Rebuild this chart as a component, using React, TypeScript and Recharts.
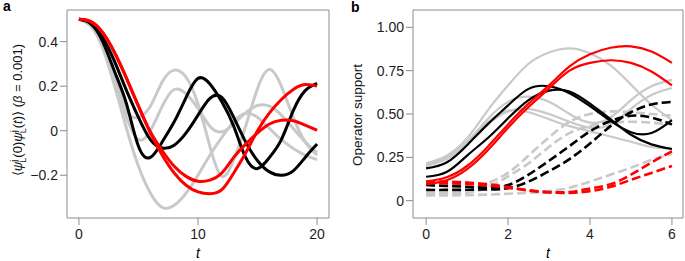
import React from 'react';
import { LineChart, Line, XAxis, YAxis, ReferenceArea } from 'recharts';

const FONT = '"Liberation Sans", Arial, Helvetica, sans-serif';
const GRAY = '#c9c9c9';
const RED = '#ff0000';
const BLACK = '#000000';
const FRAME = '#8c8c8c';

// ---- panel a: correlator vs t (beta = 0.001) ----
const tA = [0, 1, 2, 3, 4, 5, 6, 7, 8, 9, 10, 11, 12, 13, 14, 15, 16, 17, 18, 19, 20];
const aGrayDeep = [0.5, 0.47, 0.37, 0.2, 0.01, -0.16, -0.28, -0.345, -0.335, -0.28, -0.2, -0.11, -0.03, 0.04, 0.078, 0.06, 0.01, -0.04, -0.08, -0.11, -0.13];
const aGrayHigh = [0.5, 0.47, 0.38, 0.24, 0.09, 0.06, 0.11, 0.22, 0.272, 0.24, 0.12, -0.07, -0.205, -0.13, 0.02, 0.19, 0.275, 0.2, 0.06, -0.05, -0.11];
const aGrayMid = [0.5, 0.47, 0.38, 0.23, 0.06, -0.04, 0.0, 0.11, 0.185, 0.165, 0.1, 0.02, -0.005, 0.03, 0.08, 0.113, 0.11, 0.07, 0.01, -0.05, -0.1];
const aBlack1 = [0.5, 0.48, 0.4, 0.265, 0.12, -0.07, -0.12, -0.05, 0.04, 0.15, 0.235, 0.21, 0.13, 0.02, -0.12, -0.17, -0.12, -0.04, 0.09, 0.18, 0.213];
const aBlack2 = [0.5, 0.485, 0.42, 0.31, 0.18, 0.06, -0.04, -0.078, -0.065, -0.01, 0.07, 0.145, 0.15, 0.06, -0.05, -0.135, -0.185, -0.2, -0.18, -0.12, -0.06];
const aRed1 = [0.5, 0.49, 0.44, 0.35, 0.235, 0.11, -0.01, -0.11, -0.19, -0.245, -0.275, -0.283, -0.265, -0.19, -0.1, 0.0, 0.08, 0.14, 0.185, 0.207, 0.2];
const aRed2 = [0.5, 0.49, 0.44, 0.35, 0.235, 0.11, -0.005, -0.09, -0.16, -0.205, -0.227, -0.222, -0.19, -0.12, -0.06, -0.01, 0.03, 0.047, 0.045, 0.025, 0.002];
const aTicksX = [0, 10, 20];
const aTicksY = [-0.2, 0, 0.2, 0.4];

// ---- panel b: operator support vs t ----
const tB = [0, 0.5, 1, 1.5, 2, 2.5, 3, 3.5, 4, 4.5, 5, 5.5, 6];
const bGray1 = [0.215, 0.26, 0.36, 0.52, 0.665, 0.79, 0.855, 0.879, 0.85, 0.78, 0.67, 0.555, 0.465];
const bGray2 = [0.21, 0.25, 0.34, 0.47, 0.57, 0.6, 0.57, 0.5, 0.45, 0.48, 0.58, 0.66, 0.697];
const bGray3 = [0.205, 0.245, 0.33, 0.44, 0.515, 0.53, 0.5, 0.455, 0.42, 0.44, 0.53, 0.61, 0.65];
const bGray4 = [0.2, 0.24, 0.33, 0.45, 0.52, 0.51, 0.47, 0.43, 0.4, 0.37, 0.34, 0.31, 0.3];
const bBlack1 = [0.186, 0.22, 0.32, 0.44, 0.55, 0.645, 0.66, 0.62, 0.545, 0.46, 0.395, 0.39, 0.465];
const bBlack2 = [0.138, 0.165, 0.26, 0.36, 0.475, 0.58, 0.635, 0.63, 0.56, 0.47, 0.38, 0.325, 0.298];
const bRed1 = [0.11, 0.135, 0.2, 0.31, 0.44, 0.56, 0.665, 0.775, 0.845, 0.882, 0.89, 0.86, 0.795];
const bRed2 = [0.095, 0.118, 0.182, 0.29, 0.42, 0.54, 0.648, 0.75, 0.795, 0.81, 0.795, 0.745, 0.665];
const bGrayD1 = [0.045, 0.045, 0.055, 0.1, 0.16, 0.26, 0.365, 0.455, 0.5, 0.515, 0.51, 0.5, 0.49];
const bGrayD2 = [0.04, 0.04, 0.045, 0.075, 0.14, 0.215, 0.31, 0.39, 0.43, 0.45, 0.455, 0.45, 0.44];
const bGrayD3 = [0.03, 0.03, 0.032, 0.035, 0.04, 0.045, 0.055, 0.075, 0.11, 0.15, 0.19, 0.235, 0.27];
const bBlackD1 = [0.062, 0.062, 0.063, 0.065, 0.072, 0.11, 0.17, 0.24, 0.33, 0.43, 0.51, 0.555, 0.57];
const bBlackD2 = [0.09, 0.085, 0.08, 0.075, 0.09, 0.15, 0.23, 0.315, 0.4, 0.46, 0.49, 0.48, 0.44];
const bRedD1 = [0.11, 0.11, 0.105, 0.095, 0.078, 0.06, 0.05, 0.05, 0.07, 0.095, 0.15, 0.22, 0.285];
const bRedD2 = [0.1, 0.1, 0.097, 0.088, 0.075, 0.058, 0.047, 0.045, 0.055, 0.08, 0.12, 0.16, 0.2];
const bTicksX = [0, 2, 4, 6];
const bTicksY = [0, 0.25, 0.5, 0.75, 1];

const dataA = tA.map((t, i) => ({
  t,
  grayDeep: aGrayDeep[i],
  grayHigh: aGrayHigh[i],
  grayMid: aGrayMid[i],
  black1: aBlack1[i],
  black2: aBlack2[i],
  red1: aRed1[i],
  red2: aRed2[i],
}));

const dataB = tB.map((t, i) => ({
  t,
  g1: bGray1[i], g2: bGray2[i], g3: bGray3[i], g4: bGray4[i],
  k1: bBlack1[i], k2: bBlack2[i],
  r1: bRed1[i], r2: bRed2[i],
  gd1: bGrayD1[i], gd2: bGrayD2[i], gd3: bGrayD3[i],
  kd1: bBlackD1[i], kd2: bBlackD2[i],
  rd1: bRedD1[i], rd2: bRedD2[i],
}));

const tickStyle = { fill: '#1e1e1e', fontSize: 14, fontFamily: FONT };
const fmtA = (v: number) => (v === 0 ? '0' : (v < 0 ? '\u2212' : '') + Math.abs(v).toFixed(1));
const fmtB = (v: number) => (v === 0 ? '0' : v.toFixed(2));

const line = (key: string, color: string, w: number, dash?: string) => (
  <Line
    key={key}
    type="natural"
    dataKey={key}
    stroke={color}
    strokeWidth={w}
    strokeDasharray={dash}
    dot={false}
    activeDot={false}
    isAnimationActive={false}
  />
);

const PanelA = () => (
  <LineChart width={340} height={261} data={dataA} margin={{ top: 10, right: 11, bottom: 13, left: 7 }}>
    <XAxis dataKey="t" type="number" domain={[-1, 21]} ticks={aTicksX} allowDataOverflow
      axisLine={false} tickLine={{ stroke: FRAME }} tickSize={7} tickMargin={4} height={30} tick={tickStyle} />
    <YAxis type="number" domain={[-0.392, 0.542]} ticks={aTicksY} allowDataOverflow tickFormatter={fmtA}
      axisLine={false} tickLine={{ stroke: FRAME }} tickSize={7} tickMargin={2} width={60} tick={tickStyle} />
    <ReferenceArea x1={-1} x2={21} y1={-0.392} y2={0.542} fill="none" stroke={FRAME} strokeWidth={1} />
    {line('grayDeep', GRAY, 3)}
    {line('grayHigh', GRAY, 3)}
    {line('grayMid', GRAY, 3)}
    {line('black2', BLACK, 3)}
    {line('black1', BLACK, 3)}
    {line('red2', RED, 3)}
    {line('red1', RED, 3)}
  </LineChart>
);

const PanelB = () => (
  <LineChart width={345} height={261} data={dataB} margin={{ top: 10, right: 2, bottom: 13, left: 13 }}>
    <XAxis dataKey="t" type="number" domain={[-0.32, 6.27]} ticks={bTicksX} allowDataOverflow
      axisLine={false} tickLine={{ stroke: FRAME }} tickSize={7} tickMargin={4} height={30} tick={tickStyle} />
    <YAxis type="number" domain={[-0.1, 1.1]} ticks={bTicksY} allowDataOverflow tickFormatter={fmtB}
      axisLine={false} tickLine={{ stroke: FRAME }} tickSize={7} tickMargin={2} width={60} tick={tickStyle} />
    <ReferenceArea x1={-0.32} x2={6.27} y1={-0.1} y2={1.1} fill="none" stroke={FRAME} strokeWidth={1} />
    {line('g1', GRAY, 2.2)}
    {line('g2', GRAY, 2.2)}
    {line('g3', GRAY, 2.2)}
    {line('g4', GRAY, 2.2)}
    {line('gd1', GRAY, 2.6, '9 4')}
    {line('gd2', GRAY, 2.6, '9 4')}
    {line('gd3', GRAY, 2.6, '9 4')}
    {line('kd1', BLACK, 2.6, '9 4')}
    {line('kd2', BLACK, 2.6, '9 4')}
    {line('k1', BLACK, 2.2)}
    {line('k2', BLACK, 2.2)}
    {line('rd1', RED, 2.6, '9 4')}
    {line('rd2', RED, 2.6, '9 4')}
    {line('r1', RED, 2.2)}
    {line('r2', RED, 2.2)}
  </LineChart>
);

export default function App() {
  return (
    <div style={{ position: 'absolute', left: 0, top: 0, width: 685, height: 261, background: '#fff', overflow: 'hidden' }}>
      <div style={{ position: 'absolute', left: 0, top: 0 }}>
        <PanelA />
      </div>
      <div style={{ position: 'absolute', left: 340, top: 0 }}>
        <PanelB />
      </div>
      <svg width={685} height={261} style={{ position: 'absolute', left: 0, top: 0, pointerEvents: 'none' }}
        fontFamily={FONT}>
        <text x={3} y={11} fontSize={14} fontWeight="bold">a</text>
        <text x={351} y={12} fontSize={14} fontWeight="bold">b</text>
        <text x={198} y={258} fontSize={14} fontStyle="italic" textAnchor="middle">t</text>
        <text x={548} y={258} fontSize={14} fontStyle="italic" textAnchor="middle">t</text>
        <text transform="translate(22,110) rotate(-90)" fontSize={13} textAnchor="middle" fill="#111">
          {'\u27e8'}<tspan fontStyle="italic">ψ</tspan>
          <tspan fontSize={9} dy={-5}>j</tspan>
          <tspan fontSize={9} dx={-3} dy={9}>L</tspan>
          <tspan dy={-4}>(0)</tspan><tspan fontStyle="italic">ψ</tspan>
          <tspan fontSize={9} dy={-5}>j</tspan>
          <tspan fontSize={9} dx={-3} dy={9}>L</tspan>
          <tspan dy={-4}>(</tspan><tspan fontStyle="italic">t</tspan>
          <tspan>){'\u27e9'} (</tspan><tspan fontStyle="italic">β</tspan>
          <tspan> = 0.001)</tspan>
        </text>
        <text transform="translate(362,115) rotate(-90)" fontSize={13.5} textAnchor="middle" fill="#111">
          Operator support
        </text>
      </svg>
    </div>
  );
}
